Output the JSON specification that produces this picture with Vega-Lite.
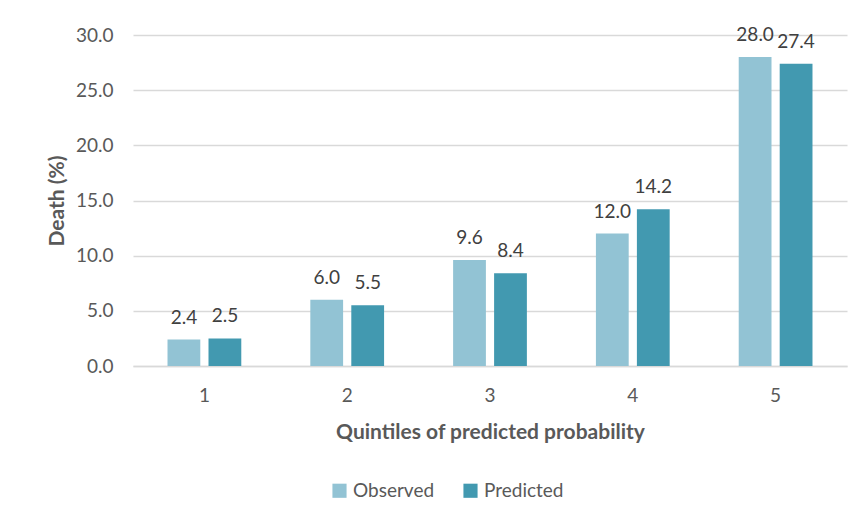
{
  "$schema": "https://vega.github.io/schema/vega-lite/v6.json",
  "width": 714,
  "height": 331,
  "autosize": {"type": "none"},
  "padding": {"left": 133, "top": 35, "right": 15, "bottom": 156},
  "background": "white",
  "config": {
    "font": "Lato",
    "view": {"stroke": null},
    "axis": {"labelColor": "#595959", "titleColor": "#595959", "labelFont": "Lato", "titleFont": "Lato"}
  },
  "data": {
    "values": [
      {"quintile": "1", "series": "Observed", "value": 2.4},
      {"quintile": "1", "series": "Predicted", "value": 2.5},
      {"quintile": "2", "series": "Observed", "value": 6.0},
      {"quintile": "2", "series": "Predicted", "value": 5.5},
      {"quintile": "3", "series": "Observed", "value": 9.6},
      {"quintile": "3", "series": "Predicted", "value": 8.4},
      {"quintile": "4", "series": "Observed", "value": 12.0},
      {"quintile": "4", "series": "Predicted", "value": 14.2},
      {"quintile": "5", "series": "Observed", "value": 28.0},
      {"quintile": "5", "series": "Predicted", "value": 27.4}
    ]
  },
  "encoding": {
    "x": {
      "field": "quintile", "type": "nominal",
      "scale": {"paddingInner": 0.426, "paddingOuter": 0.213},
      "axis": {
        "title": "Quintiles of predicted probability",
        "titleFontSize": 21, "titleFontWeight": "bold", "titlePadding": 16,
        "labelFontSize": 19, "labelAngle": 0, "labelPadding": 20,
        "ticks": false, "domainColor": "#D9D9D9", "domainWidth": 1.5
      }
    },
    "xOffset": {
      "field": "series", "type": "nominal",
      "scale": {"paddingInner": 0.2, "paddingOuter": 0.1}
    },
    "y": {
      "field": "value", "type": "quantitative",
      "scale": {"domain": [0, 30], "nice": false},
      "axis": {
        "title": "Death (%)", "titleFontSize": 21, "titleFontWeight": "bold", "titlePadding": 8,
        "values": [0, 5, 10, 15, 20, 25, 30], "format": ".1f",
        "labelFontSize": 19, "labelPadding": 20, "ticks": false, "domain": false,
        "gridColor": "#D9D9D9", "gridWidth": 1.5
      }
    }
  },
  "layer": [
    {
      "mark": {"type": "bar"},
      "encoding": {
        "color": {
          "field": "series", "type": "nominal",
          "scale": {"domain": ["Observed", "Predicted"], "range": ["#92C3D4", "#4299B0"]},
          "legend": {
            "title": null, "orient": "none", "direction": "horizontal",
            "legendX": 197, "legendY": 446,
            "symbolType": "square", "symbolSize": 200, "symbolStrokeWidth": 0,
            "labelFontSize": 19, "labelColor": "#595959",
            "columnPadding": 26, "labelOffset": 4
          }
        }
      }
    },
    {
      "mark": {"type": "text", "dy": -22, "fontSize": 19, "color": "#404040", "font": "Lato"},
      "encoding": {
        "text": {"field": "value", "type": "quantitative", "format": ".1f"}
      }
    }
  ]
}
